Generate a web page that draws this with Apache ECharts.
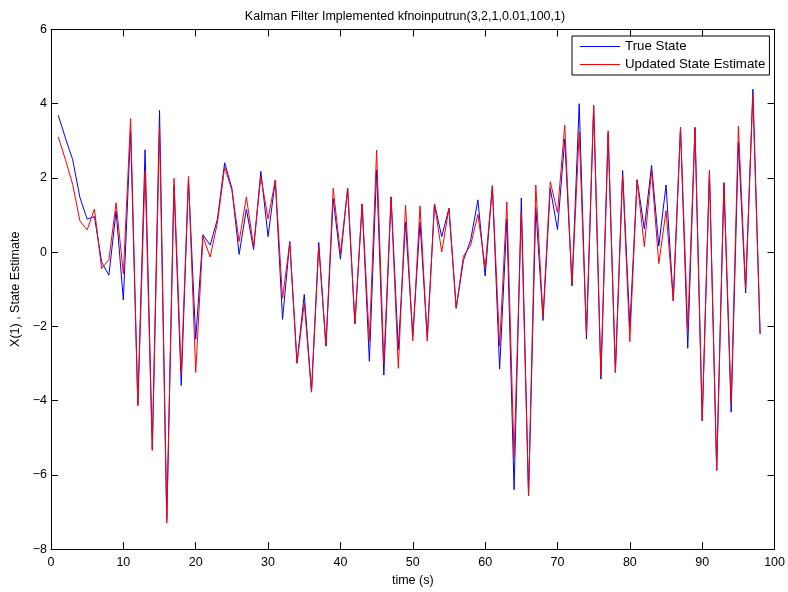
<!DOCTYPE html>
<html>
<head>
<meta charset="utf-8">
<script src="https://cdn.jsdelivr.net/npm/echarts@6/dist/echarts.min.js"></script>
<style>html,body{margin:0;padding:0;background:#fff}#c{width:788px;height:592px}</style>
</head>
<body>
<div id="c"></div>
<script>
var timeSteps = [];
for (var i = 1; i <= 98; i++) timeSteps.push(i);

var trueState = [3.69,3.07,2.49,1.47,0.89,0.96,-0.27,-0.62,1.11,-1.29,
3.29,-4.1,2.76,-5.3,3.82,-7.2,1.8,-3.59,1.95,-2.34,
0.47,0.19,0.89,2.41,1.72,-0.06,1.16,0.07,2.18,0.42,
1.94,-1.81,0.29,-2.99,-1.14,-3.77,0.26,-2.53,1.44,-0.19,
1.72,-1.93,1.3,-2.94,2.22,-3.31,1.49,-2.62,0.81,-2.25,
0.81,-2.3,1.3,0.42,1.18,-1.51,-0.22,0.33,1.41,-0.64,
1.79,-3.15,0.89,-6.4,1.46,-6.57,1.21,-1.84,1.72,0.61,
3.05,-0.9,4.0,-2.34,3.95,-3.42,3.2,-3.24,2.2,-2.02,
1.95,0.63,2.34,0.17,1.81,-1.31,3.36,-2.59,3.36,-4.54,
2.2,-5.88,1.87,-4.31,2.96,-1.1,4.39,-2.2];

var updatedEstimate = [3.11,2.49,1.82,0.84,0.6,1.16,-0.44,-0.2,1.33,-0.58,
3.6,-4.14,2.2,-5.34,3.35,-7.3,1.99,-3.27,2.04,-3.24,
0.42,-0.13,0.8,2.29,1.67,0.29,1.49,0.15,2.04,0.9,
1.94,-1.24,0.26,-2.99,-1.37,-3.77,0.15,-2.53,1.72,-0.04,
1.72,-1.93,1.3,-2.39,2.75,-2.99,1.49,-3.13,1.27,-2.39,
1.25,-2.39,1.3,0.01,1.18,-1.51,-0.11,0.19,1.02,-0.41,
1.79,-2.53,1.35,-5.53,1.07,-6.57,1.81,-1.74,1.9,1.07,
3.42,-0.91,3.24,-2.2,3.95,-3.31,3.27,-3.24,2.08,-2.41,
1.95,0.15,2.2,-0.31,1.12,-1.31,3.36,-2.07,3.36,-4.54,
2.18,-5.88,1.87,-4.05,3.4,-0.96,4.27,-2.2];

var xTicks = [0,10,20,30,40,50,60,70,80,90,100];
var yTicks = [-8,-6,-4,-2,0,2,4,6];

function pairs(ys) { return timeSteps.map(function (t, i) { return [t, ys[i]]; }); }

var FONT = '"Liberation Sans", Arial, Helvetica, sans-serif';
var axisCommon = {
  axisLine: { show: true, onZero: false, lineStyle: { color: '#000', width: 1 } },
  axisTick: { show: true, inside: true, length: 7, lineStyle: { color: '#000', width: 1 } },
  splitLine: { show: false }
};
function mk(base, extra) { return Object.assign({}, axisCommon, base, extra); }

var chart = echarts.init(document.getElementById('c'), null, { renderer: 'canvas' });
chart.setOption({
  animation: false,
  backgroundColor: '#fff',
  textStyle: { fontFamily: FONT },
  title: {
    text: 'Kalman Filter Implemented kfnoinputrun(3,2,1,0.01,100,1)',
    left: 400, top: 5, textAlign: 'center',
    textStyle: { fontFamily: FONT, fontSize: 12.5, fontWeight: 'normal', color: '#000' }
  },
  grid: { left: 51, right: 12.5, top: 29.5, bottom: 40.5, containLabel: false },
  legend: {
    orient: 'vertical', left: 572, top: 36,
    padding: [3, 4, 3, 8], itemGap: 3, itemWidth: 40, itemHeight: 1,
    icon: 'rect',
    backgroundColor: '#fff', borderColor: '#000', borderWidth: 1,
    textStyle: { fontFamily: FONT, fontSize: 13.3, color: '#000', lineHeight: 15 },
    data: ['True State', 'Updated State Estimate']
  },
  xAxis: [
    mk({ type: 'value', min: xTicks[0], max: xTicks[xTicks.length - 1], interval: 10, position: 'bottom',
      name: 'time (s)', nameLocation: 'middle', nameGap: 21,
      nameTextStyle: { fontFamily: FONT, fontSize: 12.5, color: '#000' },
      axisLabel: { color: '#000', fontFamily: FONT, fontSize: 12.5, margin: 7 } }),
    mk({ type: 'value', min: xTicks[0], max: xTicks[xTicks.length - 1], interval: 10, position: 'top',
      axisLabel: { show: false } })
  ],
  yAxis: [
    mk({ type: 'value', min: yTicks[0], max: yTicks[yTicks.length - 1], interval: 2, position: 'left',
      name: 'X(1) , State Estimate', nameLocation: 'middle', nameGap: 25,
      nameTextStyle: { fontFamily: FONT, fontSize: 12.5, color: '#000' },
      axisLabel: { color: '#000', fontFamily: FONT, fontSize: 12.5, margin: 4,
        formatter: function (v) { return String(v).replace('-', '\u2212'); } } }),
    mk({ type: 'value', min: yTicks[0], max: yTicks[yTicks.length - 1], interval: 2, position: 'right',
      axisLabel: { show: false } })
  ],
  series: [
    { name: 'True State', type: 'line', data: pairs(trueState), symbol: 'none',
      lineStyle: { color: '#0000ff', width: 1 }, itemStyle: { color: '#0000ff' } },
    { name: 'Updated State Estimate', type: 'line', data: pairs(updatedEstimate), symbol: 'none',
      lineStyle: { color: '#ff0000', width: 1 }, itemStyle: { color: '#ff0000' } }
  ]
});
</script>
</body>
</html>
